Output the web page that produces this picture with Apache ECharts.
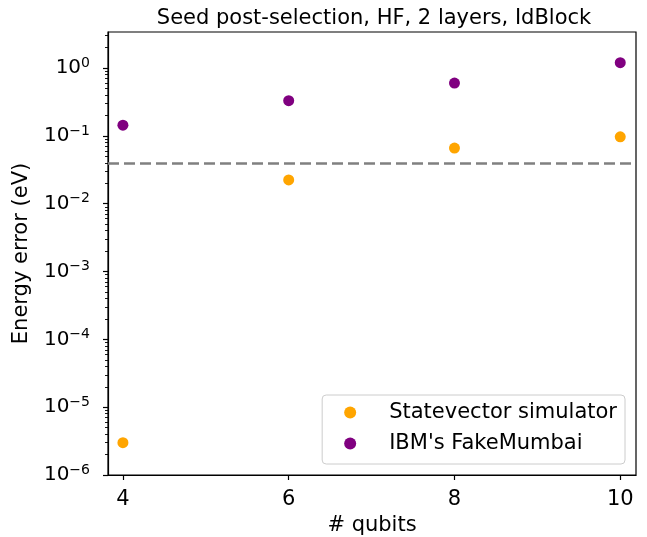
<!DOCTYPE html>
<html>
<head>
<meta charset="utf-8">
<script src="https://cdn.jsdelivr.net/npm/echarts@6/dist/echarts.min.js"></script>
<style>
  html, body { margin: 0; padding: 0; background: #fff; }
  #chart { width: 647px; height: 537px; }
</style>
</head>
<body>
<div id="chart"></div>
<script>
// data
const qubits = [4, 6, 8, 10]
const statevector = [3.0e-6, 0.0224, 0.066, 0.097]
const fakeMumbai = [0.144, 0.33, 0.60, 1.2]
const chemAccuracy = 0.0435

// tick positions
const majorTicks = [1e-6, 1e-5, 1e-4, 1e-3, 1e-2, 1e-1, 1]
const minorTicks = []
for (let e = -6; e <= 0; e++) {
  for (let m = 2; m <= 9; m++) {
    const v = m * Math.pow(10, e)
    if (v < 3.4) minorTicks.push(v)
  }
}

const font = 'DejaVu Sans'

function supLabel(v) {
  const e = Math.round(Math.log10(v))
  const s = e < 0 ? '\u2212' + (-e) : String(e)
  return '10{sup|' + s + '}'
}

const chart = echarts.init(document.getElementById('chart'))
chart.setOption({
  animation: false,
  title: {
    text: 'Seed post-selection, HF, 2 layers, IdBlock',
    left: 369,
    top: 3,
    textAlign: 'center',
    textStyle: { fontFamily: font, fontSize: 21, fontWeight: 'normal', color: '#000' }
  },
  grid: {
    left: 108, right: 11, top: 32, bottom: 62,
    containLabel: false,
    outerBoundsMode: 'none',
    show: true, borderColor: '#000', borderWidth: 1.2
  },
  legend: {
    right: 22, top: 395,
    orient: 'vertical',
    itemWidth: 12, itemHeight: 12, itemGap: 10,
    padding: [7, 8, 10, 22],
    borderColor: '#ccc', borderWidth: 1, borderRadius: 4,
    backgroundColor: 'rgba(255,255,255,0.8)',
    textStyle: { fontFamily: font, fontSize: 21, color: '#000', padding: [0, 0, 0, 28] },
    data: [
      { name: 'Statevector simulator', icon: 'circle' },
      { name: "IBM's FakeMumbai", icon: 'circle' }
    ]
  },
  xAxis: {
    type: 'value',
    min: 3.82, max: 10.19,
    interval: 2,
    name: '# qubits',
    nameLocation: 'middle',
    nameGap: 40,
    nameTextStyle: { fontFamily: font, fontSize: 21, color: '#000' },
    axisLine: { show: true, lineStyle: { color: '#000', width: 1.2 } },
    axisTick: { show: true, length: 5, lineStyle: { color: '#000', width: 1.2 }, customValues: qubits },
    axisLabel: { fontFamily: font, fontSize: 21, color: '#000', margin: 14, customValues: qubits },
    splitLine: { show: false }
  },
  yAxis: [
    {
      type: 'log',
      logBase: 10,
      min: 1e-6, max: 3.4,
      name: 'Energy error (eV)',
      nameLocation: 'middle',
      nameGap: 76,
      nameTextStyle: { fontFamily: font, fontSize: 21, color: '#000' },
      axisLine: { show: true, lineStyle: { color: '#000', width: 1.2 } },
      axisTick: { show: true, length: 5, lineStyle: { color: '#000', width: 1.2 }, customValues: majorTicks },
      axisLabel: {
        fontFamily: font, fontSize: 20, color: '#000', margin: 18,
        customValues: majorTicks,
        formatter: supLabel,
        rich: { sup: { fontFamily: font, fontSize: 14, color: '#000', padding: [0, 0, 10, 0] } }
      },
      splitLine: { show: false }
    },
    {
      // minor ticks only
      type: 'log',
      logBase: 10,
      min: 1e-6, max: 3.4,
      position: 'left',
      axisLine: { show: false },
      axisTick: { show: true, length: 3, lineStyle: { color: '#000', width: 0.9 }, customValues: minorTicks },
      axisLabel: { show: false, customValues: minorTicks },
      splitLine: { show: false }
    }
  ],
  series: [
    {
      name: 'Statevector simulator',
      type: 'scatter',
      symbolSize: 11,
      itemStyle: { color: '#ffa500', opacity: 1 },
      data: qubits.map((q, i) => [q, statevector[i]]),
      markLine: {
        silent: true,
        symbol: 'none',
        label: { show: false },
        lineStyle: { color: '#808080', type: [11, 5], width: 2.5 },
        data: [{ yAxis: chemAccuracy }]
      }
    },
    {
      name: "IBM's FakeMumbai",
      type: 'scatter',
      symbolSize: 11,
      itemStyle: { color: '#800080', opacity: 1 },
      data: qubits.map((q, i) => [q, fakeMumbai[i]])
    }
  ]
})
</script>
</body>
</html>
